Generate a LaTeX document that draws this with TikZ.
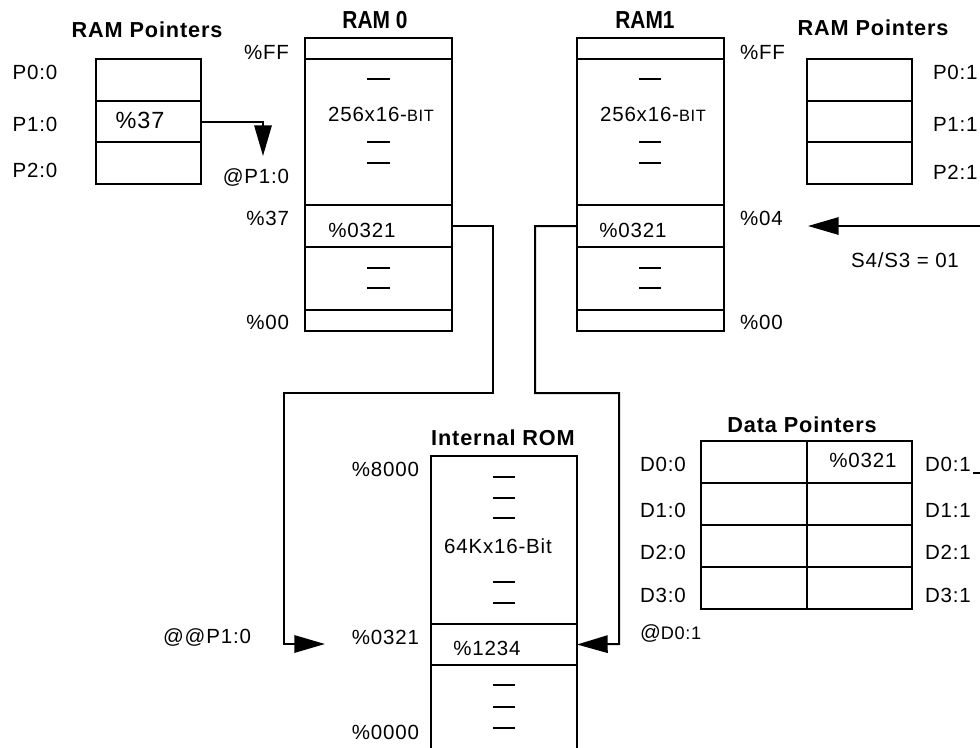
\documentclass[tikz,border=0pt]{standalone}
\usepackage{fontspec}
\setmainfont[LetterSpace=4]{Liberation Sans}
\newfontfamily\narrowfont[FakeStretch=0.85]{Liberation Sans}
\usepackage{tikz}
\usetikzlibrary{positioning,arrows.meta}

\begin{document}
\begin{tikzpicture}[x=0.03cm,y=-0.03cm]
\tikzstyle{every node}=[inner sep=0pt,outer sep=0pt,font=\fontsize{17.5}{20}\selectfont]
\tikzstyle{cell}=[draw,rectangle,line width=1.7pt]
\tikzstyle{ptr}=[cell,minimum width=3.15cm,minimum height=1.25cm]
\tikzstyle{ram}=[cell,minimum width=4.41cm]
\tikzstyle{rom}=[cell,minimum width=4.38cm]
\tikzstyle{dptr}=[cell,minimum width=3.16cm,minimum height=1.26cm]
\tikzstyle{title}=[font=\fontsize{18.5}{20}\selectfont\bfseries]
\tikzstyle{ramtitle}=[font=\fontsize{21}{22}\selectfont\narrowfont\bfseries]
\tikzstyle{wire}=[line width=1.7pt]
\tikzstyle{bigtip}=[-{Triangle[length=0.92cm,width=0.52cm]}]
\tikzstyle{dashbar}=[line width=1.7pt]

\clip (0,0) rectangle (980,747);

% RAM pointers, bank 0
\node[title] (ptrAtitle) at (147,30) {RAM Pointers};
\node[ptr,anchor=north] (ptrA0) at (148.5,59) {};
\node[ptr,below=0pt of ptrA0] (ptrA1) {};
\node[ptr,below=0pt of ptrA1] (ptrA2) {};
\node (ptrAval) at (140,120) {\fontsize{20}{22}\selectfont\%37};
\node (pA0) at (35,72) {P0:0};
\node (pA1) at (35,124) {P1:0};
\node (pA2) at (35,170) {P2:0};
\node (atp) at (256,177) {@P1:0};

% RAM 0
\node[ramtitle] (ram0title) at (375,20) {RAM 0};
\node[ram,minimum height=0.63cm,anchor=north] (r0top) at (378.5,38) {};
\node[ram,minimum height=4.38cm,below=0pt of r0top] (r0mid) {};
\node[ram,minimum height=1.26cm,below=0pt of r0mid] (r0c) {};
\node[ram,minimum height=1.89cm,below=0pt of r0c] (r0low) {};
\node[ram,minimum height=0.63cm,below=0pt of r0low] (r0bot) {};
\node (r0size) at (381,114) {256x16-{\fontsize{14}{15}\selectfont BIT}};
\node (r0val) at (362,230) {\%0321};
\node[anchor=east] (r0ff) at (289,52) {\%FF};
\node[anchor=east] (r037) at (289,218) {\%37};
\node[anchor=east] (r000) at (289,322) {\%00};
\foreach \y in {79,142,163,268,288}
  \draw[dashbar] (367,\y) -- (390,\y);

% RAM 1
\node[ramtitle] (ram1title) at (645,20) {RAM1};
\node[ram,minimum height=0.63cm,anchor=north] (r1top) at (650.5,38) {};
\node[ram,minimum height=4.38cm,below=0pt of r1top] (r1mid) {};
\node[ram,minimum height=1.26cm,below=0pt of r1mid] (r1c) {};
\node[ram,minimum height=1.89cm,below=0pt of r1c] (r1low) {};
\node[ram,minimum height=0.63cm,below=0pt of r1low] (r1bot) {};
\node (r1size) at (653,114) {256x16-{\fontsize{14}{15}\selectfont BIT}};
\node (r1val) at (633,230) {\%0321};
\node[anchor=west] (r1ff) at (740,52) {\%FF};
\node[anchor=west] (r104) at (740,218) {\%04};
\node[anchor=west] (r100) at (740,322) {\%00};
\foreach \y in {79,142,163,268,288}
  \draw[dashbar] (639,\y) -- (661,\y);

% RAM pointers, bank 1
\node[title] (ptrBtitle) at (873,28) {RAM Pointers};
\node[ptr,anchor=north] (ptrB0) at (859.5,59) {};
\node[ptr,below=0pt of ptrB0] (ptrB1) {};
\node[ptr,below=0pt of ptrB1] (ptrB2) {};
\node[anchor=west] (pB0) at (933,72) {P0:1};
\node[anchor=west] (pB1) at (933,124) {P1:1};
\node[anchor=west] (pB2) at (933,172) {P2:1};
\node (sel) at (905,260) {S4/S3 = 01};

% internal ROM
\node[title] (romtitle) at (503,438) {Internal ROM};
\node[rom,minimum height=5.04cm,anchor=north] (romtop) at (504,456) {};
\node[rom,minimum height=1.23cm,below=0pt of romtop] (romc) {};
\node[rom,minimum height=3cm,below=0pt of romc] (rombot) {};
\node (romsize) at (498,546) {64Kx16-Bit};
\node (romval) at (487,648) {\%1234};
\node[anchor=east] (rom8000) at (419,469) {\%8000};
\node[anchor=east] (rom0321) at (419,637) {\%0321};
\node[anchor=east] (rom0000) at (419,732) {\%0000};
\node (atatp) at (207,637) {@@P1:0};
\foreach \y in {477,498,518,582,603,685,707,728}
  \draw[dashbar] (493,\y) -- (515,\y);

% data pointers
\node[title] (dtitle) at (802,425) {Data Pointers};
\foreach \i/\y in {0/462,1/504,2/546,3/588} {
  \node[dptr] (d\i0) at (754,\y) {};
  \node[dptr,right=0pt of d\i0] (d\i1) {};
}
\node (dval) at (863,460) {\%0321};
\foreach \i/\y in {0/464,1/510,2/552,3/595} {
  \node (dl\i) at (663,\y) {D\i:0};
  \node[anchor=west] (dr\i) at (925,\y) {D\i:1};
}
\node[anchor=west] (atd) at (640,633) {@{\fontsize{15.5}{17}\selectfont D0:1}};
\coordinate (stub) at (973,473);
\draw[wire] (stub) -- ++(20,0);

% connectors
\coordinate (tipA) at (263,156);
\draw[wire,bigtip] (ptrA1.east) -| (tipA);
\coordinate (edgeD) at (995,226);
\coordinate (tipD) at (808,226);
\draw[wire,bigtip] (edgeD) -- (tipD);
\coordinate (tipB) at (325,644);
\draw[wire,bigtip] (r0c.east) -| (493,393) -| (284,644) -- (tipB);
\draw[wire,bigtip] (r1c.west) -| (535,393) -| (619,644) -- (romc.east);
\end{tikzpicture}
\end{document}
